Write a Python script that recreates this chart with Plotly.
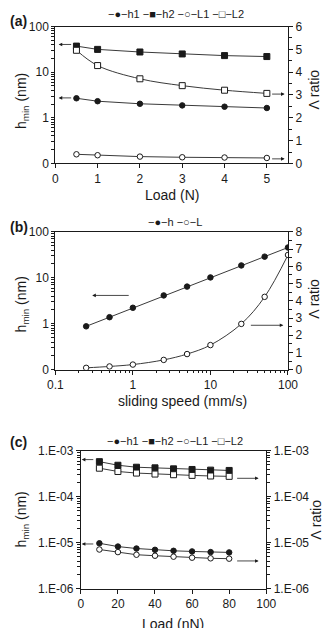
import plotly.graph_objects as go
import numpy as np

# ---------------- data ----------------
# panel (a)
load_a = [0.5, 1, 2, 3, 4, 5]
h1_a = [2.68, 2.31, 2.03, 1.87, 1.75, 1.64]
h2_a = [37.3, 31.6, 27.7, 25.1, 23.1, 22.0]
L1_a = [0.40, 0.36, 0.30, 0.27, 0.26, 0.24]
L2_a = [4.96, 4.29, 3.71, 3.41, 3.21, 3.07]

# panel (b)
speed_b = [0.25, 0.5, 1, 2.5, 5, 10, 25, 50, 100]
h_b = [0.88, 1.39, 2.23, 4.14, 6.44, 10.2, 18.6, 28.9, 45.7]
L_b = [0.11, 0.19, 0.30, 0.57, 0.91, 1.43, 2.66, 4.23, 6.66]

# panel (c)
load_c = [10, 20, 30, 40, 50, 60, 70, 80]
h1_c = [9.75e-6, 8.28e-6, 7.50e-6, 7.03e-6, 6.69e-6, 6.48e-6, 6.27e-6, 6.17e-6]
h2_c = [5.83e-4, 4.87e-4, 4.41e-4, 4.27e-4, 4.06e-4, 3.94e-4, 3.81e-4, 3.75e-4]
L1_c = [7.14e-6, 6.27e-6, 5.50e-6, 5.23e-6, 4.98e-6, 4.74e-6, 4.59e-6, 4.51e-6]
L2_c = [4.20e-4, 3.56e-4, 3.29e-4, 3.13e-4, 3.03e-4, 2.93e-4, 2.84e-4, 2.79e-4]

ticklog_a = ["0", "1", "10", "100"]
ticklog_c = ["1.E-06", "1.E-05", "1.E-04", "1.E-03"]

# ---------------- styles ----------------
FONT = "Liberation Sans, Arial, sans-serif"
INK = "#1a1a1a"
LINE = "#3a3a3a"
W, H = 333, 628


def px(y):
    return 1 - y / H


def pxx(x):
    return x / W


def trace(x, y, xa, ya, symbol, filled, spline=False):
    return go.Scatter(
        x=x, y=y, xaxis=xa, yaxis=ya, mode="lines+markers",
        line=dict(color=LINE, width=1, shape="spline" if spline else "linear",
                  smoothing=1.0),
        marker=dict(symbol=symbol, size=5.5 if symbol == "circle" else 6,
                    color=INK if filled else "white",
                    line=dict(color=INK, width=1)),
        showlegend=False, hoverinfo="skip")


fig = go.Figure()
# (a)
fig.add_trace(trace(load_a, h1_a, "x", "y", "circle", True))
fig.add_trace(trace(load_a, h2_a, "x", "y", "square", True))
fig.add_trace(trace(load_a, L1_a, "x", "y2", "circle", False))
fig.add_trace(trace(load_a, L2_a, "x", "y2", "square", False, spline=True))
# (b)
fig.add_trace(trace(speed_b, h_b, "x2", "y3", "circle", True))
fig.add_trace(trace(speed_b, L_b, "x2", "y4", "circle", False, spline=True))
# (c)
fig.add_trace(trace(load_c, h1_c, "x3", "y5", "circle", True))
fig.add_trace(trace(load_c, h2_c, "x3", "y5", "square", True))
fig.add_trace(trace(load_c, L1_c, "x3", "y6", "circle", False))
fig.add_trace(trace(load_c, L2_c, "x3", "y6", "square", False))

tickfont = dict(family=FONT, size=12, color=INK)


def minor_log(lo, hi):
    vals = []
    for d in range(lo, hi):
        for k in range(2, 10):
            vals.append(k * 10.0 ** d)
    return vals


base_axis = dict(showline=True, linecolor=INK, linewidth=1, showgrid=False,
                 zeroline=False, tickfont=tickfont, ticks="outside",
                 tickcolor=INK, ticklen=4, tickwidth=1)

dom_x_ab = [pxx(50), pxx(296)]
dom_x_c = [pxx(77), pxx(273)]
dom_a = [px(160), px(20)]
dom_b = [px(371), px(230)]
dom_c = [px(595), px(454)]

layout = dict(
    width=W, height=H, margin=dict(l=0, r=0, t=0, b=0),
    paper_bgcolor="white", plot_bgcolor="white", showlegend=False,
    font=dict(family=FONT, color=INK),
    # panel (a)
    xaxis=dict(base_axis, domain=dom_x_ab, anchor="y", range=[0, 5.5], dtick=1,
               tick0=0, mirror=True),
    yaxis=dict(base_axis, domain=dom_a, anchor="x", type="log", range=[-1, 2],
               tickvals=[0.1, 1, 10, 100], ticktext=ticklog_a, ticklen=3,
               minor=dict(tickvals=minor_log(-1, 2), ticks="outside", ticklen=3,
                          tickcolor=INK)),
    yaxis2=dict(base_axis, overlaying="y", anchor="x", side="right",
                range=[0, 6], dtick=1,
                minor=dict(dtick=0.5, ticks="outside", ticklen=3, tickcolor=INK)),
    # panel (b)
    xaxis2=dict(base_axis, domain=dom_x_ab, anchor="y3", type="log",
                range=[-1, 2], tickvals=[0.1, 1, 10, 100],
                ticktext=["0.1", "1", "10", "100"], mirror=True,
                minor=dict(tickvals=minor_log(-1, 2), ticks="outside", ticklen=2,
                           tickcolor=INK)),
    yaxis3=dict(base_axis, domain=dom_b, anchor="x2", type="log", range=[-1, 2],
                tickvals=[0.1, 1, 10, 100], ticktext=ticklog_a, ticklen=3,
                minor=dict(tickvals=minor_log(-1, 2), ticks="outside", ticklen=3,
                           tickcolor=INK)),
    yaxis4=dict(base_axis, overlaying="y3", anchor="x2", side="right",
                range=[0, 8], dtick=1,
                minor=dict(dtick=0.5, ticks="outside", ticklen=3, tickcolor=INK)),
    # panel (c)
    xaxis3=dict(base_axis, domain=dom_x_c, anchor="y5", range=[0, 100], dtick=20,
                mirror=True),
    yaxis5=dict(base_axis, domain=dom_c, anchor="x3", type="log", range=[-6, -3],
                tickvals=[1e-6, 1e-5, 1e-4, 1e-3], ticktext=ticklog_c,
                minor=dict(tickvals=minor_log(-6, -3), ticks="outside", ticklen=3,
                           tickcolor=INK)),
    yaxis6=dict(base_axis, overlaying="y5", anchor="x3", side="right",
                type="log", range=[-6, -3],
                tickvals=[1e-6, 1e-5, 1e-4, 1e-3], ticktext=ticklog_c,
                minor=dict(tickvals=minor_log(-6, -3), ticks="outside", ticklen=3,
                           tickcolor=INK)),
)
fig.update_layout(**layout)

ann = []


def text(x, y, s, size=13, angle=0, bold=False, xanchor="center",
         yanchor="middle"):
    ann.append(dict(x=pxx(x), y=px(y), xref="paper", yref="paper", text=s,
                    showarrow=False, textangle=angle, xanchor=xanchor,
                    yanchor=yanchor,
                    font=dict(family=FONT, size=size, color=INK,
                              weight="bold" if bold else "normal")))


# panel labels
text(0, 14, "(a)", size=14, bold=True, xanchor="left")
text(0, 225, "(b)", size=14, bold=True, xanchor="left")
text(0, 445, "(c)", size=14, bold=True, xanchor="left")

# axis titles
ytitle = "h<sub>min</sub> (nm)"
text(173, 192, "Load (N)", size=14)
text(15, 96, ytitle, size=14, angle=-90)
text(324, 84, "Λ ratio", size=14, angle=-90)

text(184, 403, "sliding speed (mm/s)", size=14)
text(15, 304, ytitle, size=14, angle=-90)
text(324, 298, "Λ ratio", size=14, angle=-90)

text(174, 621, "Load (nN)", size=14, yanchor="top")
text(15, 524, ytitle, size=14, angle=-90)
text(326, 524, "Λ ratio", size=14, angle=-90)

# legends
leg4 = "−●−h1 −■−h2 −○−L1 −□−L2"
text(178, 7, leg4, size=11)
text(177, 220, "−●−h −○−L", size=11)
text(177, 444, leg4, size=11)


def arrow(x, y, xr, yr, ax):
    ann.append(dict(x=x, y=y, xref=xr, yref=yr, ax=ax, ay=0, showarrow=True,
                    arrowhead=2, arrowsize=0.9, arrowwidth=0.8,
                    arrowcolor=INK, text=""))


# (a) arrows
arrow(0.08, np.log10(40.5), "x", "y", 14)
arrow(0.08, np.log10(2.73), "x", "y", 14)
arrow(5.42, 3.04, "x", "y2", -14)
arrow(5.42, 0.20, "x", "y2", -14)
# (b) arrows
arrow(-0.524, 0.617, "x2", "y3", 38)
arrow(1.94, 2.58, "x2", "y4", -34)
# (c) arrows
arrow(0.5, -3.19, "x3", "y5", 13)
arrow(0.5, -5.026, "x3", "y5", 13)
arrow(95.9, -3.597, "x3", "y6", -23)
arrow(95.9, -5.395, "x3", "y6", -23)

fig.update_layout(annotations=ann)
fig.write_html("out.html")
